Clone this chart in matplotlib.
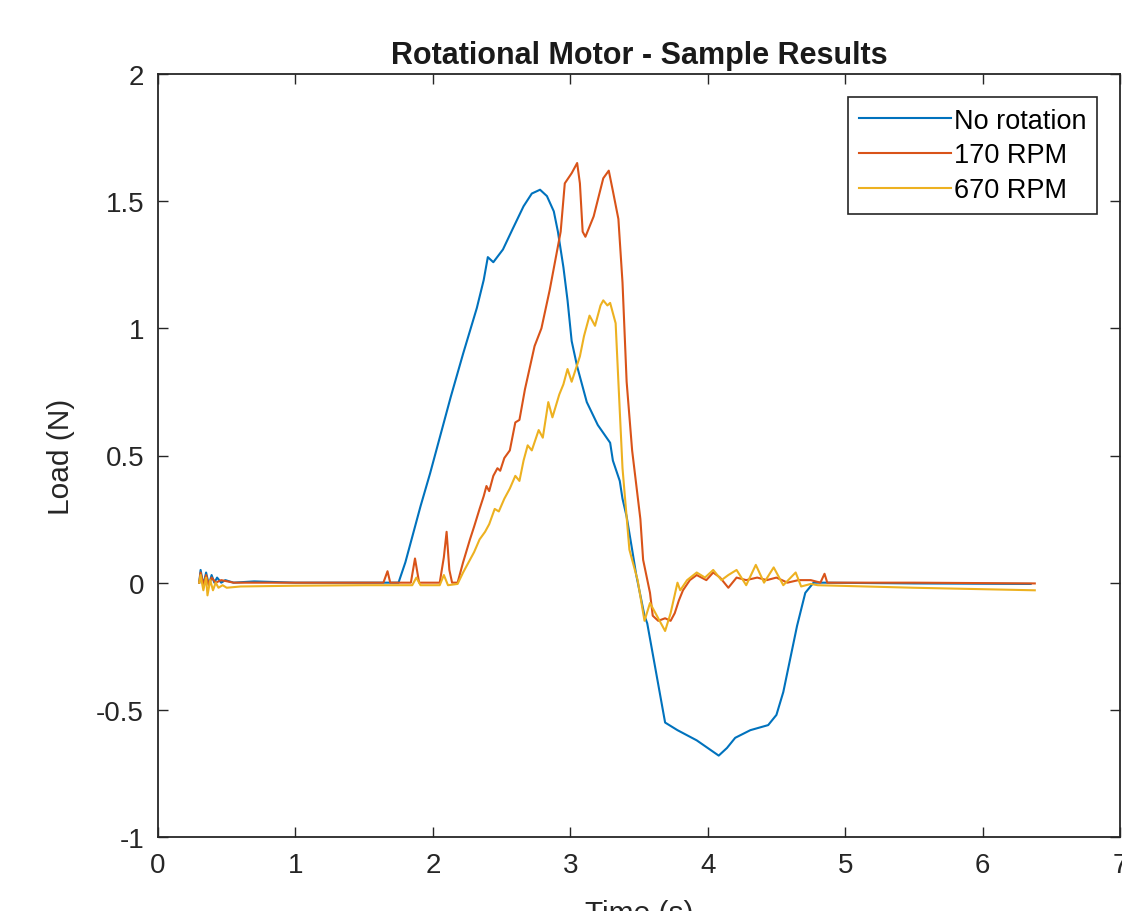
import matplotlib
matplotlib.use("Agg")
import matplotlib.pyplot as plt
import numpy as np

plt.rcParams['font.family'] = ['Liberation Sans', 'DejaVu Sans']

labels = ["No rotation", "170 RPM", "670 RPM"]
colors = ["#0072BD", "#D95319", "#EDB120"]

t_none = [0.30, 0.31, 0.33, 0.35, 0.37, 0.39, 0.41, 0.43, 0.46, 0.49, 0.55, 0.70, 1.00, 1.40, 1.72,
          1.75, 1.80, 1.85, 1.91, 1.98, 2.03, 2.13, 2.22, 2.32, 2.37, 2.40, 2.42, 2.44, 2.51, 2.58,
          2.66, 2.72, 2.78, 2.83, 2.88, 2.91, 2.95, 2.98, 3.01, 3.05, 3.12, 3.20, 3.29, 3.31, 3.36,
          3.38, 3.41, 3.45, 3.48, 3.54, 3.56, 3.60, 3.65, 3.69, 3.78, 3.92, 4.00, 4.08, 4.14, 4.20,
          4.31, 4.44, 4.50, 4.55, 4.60, 4.65, 4.71, 4.77, 4.85, 5.50, 6.35]
load_none = [0.00, 0.05, -0.01, 0.04, -0.01, 0.03, 0.00, 0.02, 0.00, 0.01, 0.00, 0.005, 0.00, 0.00, 0.00,
             0.00, 0.08, 0.18, 0.30, 0.43, 0.53, 0.73, 0.90, 1.08, 1.19, 1.28, 1.27, 1.26, 1.31, 1.39,
             1.48, 1.53, 1.545, 1.52, 1.46, 1.38, 1.24, 1.11, 0.95, 0.85, 0.71, 0.62, 0.55, 0.48, 0.40,
             0.33, 0.26, 0.13, 0.03, -0.13, -0.16, -0.28, -0.43, -0.55, -0.58, -0.62, -0.65, -0.68, -0.65, -0.61,
             -0.58, -0.56, -0.52, -0.43, -0.30, -0.17, -0.04, 0.00, 0.00, -0.003, -0.005]

t_170 = [0.30, 0.31, 0.33, 0.35, 0.37, 0.39, 0.42, 0.46, 0.55, 1.00, 1.64, 1.67, 1.69, 1.84, 1.87,
         1.90, 2.05, 2.08, 2.10, 2.12, 2.14, 2.18, 2.22, 2.27, 2.30, 2.34, 2.37, 2.39, 2.41, 2.44,
         2.47, 2.49, 2.52, 2.56, 2.60, 2.63, 2.67, 2.74, 2.79, 2.85, 2.93, 2.96, 3.01, 3.05, 3.07,
         3.09, 3.11, 3.17, 3.24, 3.28, 3.31, 3.35, 3.38, 3.41, 3.45, 3.51, 3.53, 3.58, 3.60, 3.64,
         3.69, 3.73, 3.76, 3.79, 3.82, 3.87, 3.92, 3.99, 4.04, 4.09, 4.15, 4.21, 4.28, 4.36, 4.43,
         4.50, 4.58, 4.66, 4.75, 4.82, 4.85, 4.87, 5.50, 6.38]
load_170 = [0.00, 0.04, -0.01, 0.03, -0.01, 0.02, 0.00, 0.01, 0.00, 0.00, 0.00, 0.045, 0.00, 0.00, 0.095,
            0.00, 0.00, 0.10, 0.20, 0.05, 0.00, 0.00, 0.08, 0.17, 0.22, 0.29, 0.34, 0.38, 0.36, 0.42,
            0.45, 0.44, 0.49, 0.52, 0.63, 0.64, 0.76, 0.93, 1.00, 1.15, 1.38, 1.57, 1.61, 1.65, 1.57,
            1.38, 1.36, 1.44, 1.59, 1.62, 1.54, 1.43, 1.18, 0.79, 0.52, 0.25, 0.09, -0.04, -0.13, -0.15,
            -0.14, -0.15, -0.12, -0.07, -0.03, 0.01, 0.03, 0.01, 0.04, 0.02, -0.02, 0.02, 0.01, 0.02, 0.01,
            0.02, 0.00, 0.01, 0.01, 0.00, 0.035, 0.00, 0.00, -0.003]

t_670 = [0.30, 0.31, 0.33, 0.35, 0.36, 0.38, 0.40, 0.42, 0.44, 0.47, 0.50, 0.60, 1.00, 1.50, 1.85,
         1.88, 1.91, 2.05, 2.08, 2.11, 2.18, 2.22, 2.27, 2.30, 2.34, 2.38, 2.41, 2.45, 2.48, 2.52,
         2.56, 2.60, 2.63, 2.66, 2.69, 2.72, 2.77, 2.80, 2.84, 2.87, 2.92, 2.95, 2.98, 3.01, 3.07,
         3.10, 3.14, 3.18, 3.22, 3.24, 3.27, 3.29, 3.33, 3.35, 3.38, 3.43, 3.49, 3.54, 3.58, 3.65,
         3.69, 3.73, 3.78, 3.80, 3.85, 3.92, 3.98, 4.04, 4.10, 4.15, 4.21, 4.28, 4.35, 4.41, 4.48,
         4.55, 4.64, 4.68, 4.75, 4.80, 5.50, 6.38]
load_670 = [0.00, 0.03, -0.03, 0.02, -0.05, 0.01, -0.03, 0.00, -0.02, -0.01, -0.02, -0.015, -0.012, -0.01, -0.01,
            0.02, -0.01, -0.01, 0.03, -0.01, -0.005, 0.04, 0.09, 0.12, 0.17, 0.20, 0.23, 0.29, 0.28, 0.33,
            0.37, 0.42, 0.40, 0.48, 0.54, 0.52, 0.60, 0.57, 0.71, 0.65, 0.74, 0.78, 0.84, 0.79, 0.89,
            0.97, 1.05, 1.01, 1.09, 1.11, 1.09, 1.10, 1.02, 0.79, 0.45, 0.13, 0.01, -0.15, -0.08, -0.15,
            -0.19, -0.12, 0.00, -0.03, 0.01, 0.04, 0.02, 0.05, 0.01, 0.03, 0.05, -0.01, 0.07, 0.00, 0.06,
            -0.01, 0.04, -0.015, -0.005, -0.01, -0.02, -0.03]

xticks = [0, 1, 2, 3, 4, 5, 6, 7]
yticks = [-1, -0.5, 0, 0.5, 1, 1.5, 2]
ytick_labels = ["-1", "-0.5", "0", "0.5", "1", "1.5", "2"]

fig = plt.figure(figsize=(11.22, 9.12), dpi=100)
ax = fig.add_axes([158/1122, 1-838/912, (1120-158)/1122, (838-75)/912])

for t, y, c, lab in zip([t_none, t_170, t_670], [load_none, load_170, load_670], colors, labels):
    ax.plot(t, y, color=c, lw=1.5, label=lab)

ax.set_xlim(0, 7)
ax.set_ylim(-1, 2)
ax.set_xticks(xticks)
ax.set_yticks(yticks)
ax.set_yticklabels(ytick_labels)
ax.tick_params(direction='in', length=7, width=1.0, top=True, right=True,
               labelsize=20, colors='#262626')
ax.tick_params(axis='x', pad=11)
ax.tick_params(axis='y', pad=10)
for s in ax.spines.values():
    s.set_linewidth(1.3)
    s.set_color('#262626')

ax.set_title("Rotational Motor - Sample Results", fontsize=22, fontweight='bold', pad=8, color='#1a1a1a')
ax.set_xlabel("Time (s)", fontsize=21.5, color='#262626')
ax.set_ylabel("Load (N)", fontsize=21.5, color='#262626')
ax.xaxis.set_label_coords(0.5, -0.081)
ax.yaxis.set_label_coords(-0.086, 0.50)

leg = ax.legend(loc='upper right', bbox_to_anchor=(0.976, 0.970), fontsize=19.5,
                handlelength=3.4, handletextpad=0.1, borderpad=0.4, labelspacing=0.32,
                fancybox=False, framealpha=1, edgecolor='#262626', borderaxespad=0)
leg.get_frame().set_linewidth(1.2)

fig.savefig("out.png", dpi=100)
